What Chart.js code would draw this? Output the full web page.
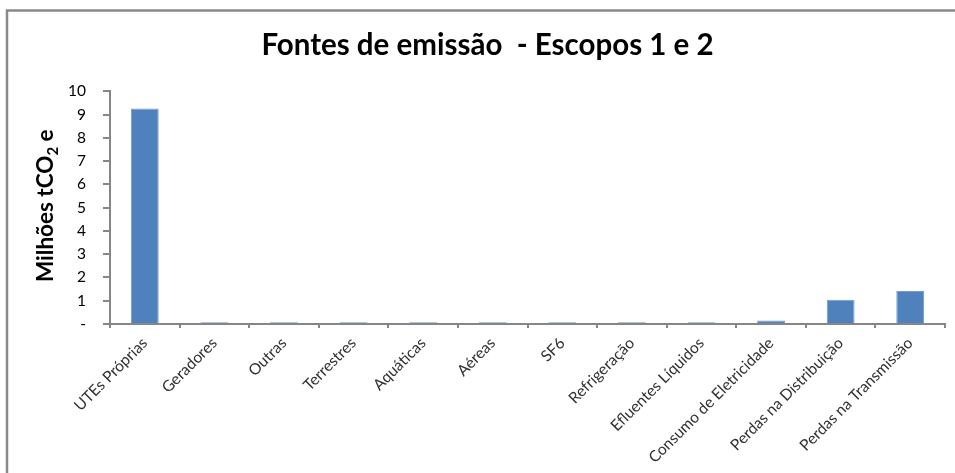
<!DOCTYPE html>
<html>
<head>
<meta charset="utf-8">
<script src="https://cdn.jsdelivr.net/npm/chart.js@4.4.1/dist/chart.umd.min.js"></script>
<style>
  html, body { margin: 0; padding: 0; background: #fff; }
  #wrap { position: relative; width: 955px; height: 473px; }
</style>
</head>
<body>
<div id="wrap"><canvas id="c" width="955" height="473"></canvas></div>
<script>
// Emission sources, scopes 1 and 2 (million tCO2e)
const categories = [
  'UTEs Próprias', 'Geradores', 'Outras', 'Terrestres', 'Aquáticas', 'Aéreas',
  'SF6', 'Refrigeração', 'Efluentes Líquidos', 'Consumo de Eletricidade',
  'Perdas na Distribuição', 'Perdas na Transmissão'
];
const emissions = [9.27, 0.08, 0.08, 0.08, 0.08, 0.08, 0.08, 0.08, 0.08, 0.15, 1.04, 1.42];
const yTicks = [0, 1, 2, 3, 4, 5, 6, 7, 8, 9, 10];

const chartTitle = 'Fontes de emissão  - Escopos 1 e 2';
const yTitleParts = ['Milhões tCO', '2', ' e'];

const axisGray = '#868686';
const fontFamily = 'Lato, "Open Sans", sans-serif';

// white background plus the frame lines on the top and left edges
const framePlugin = {
  id: 'frame',
  beforeDraw(chart) {
    const ctx = chart.ctx;
    ctx.save();
    ctx.fillStyle = '#ffffff';
    ctx.fillRect(0, 0, chart.width, chart.height);
    ctx.strokeStyle = '#8a8a8a';
    ctx.lineWidth = 2.5;
    ctx.beginPath();
    ctx.moveTo(7, chart.height);
    ctx.lineTo(7, 10.5);
    ctx.lineTo(chart.width, 10.5);
    ctx.stroke();
    ctx.restore();
  }
};

// rotated y axis title with a subscript "2"
const yTitlePlugin = {
  id: 'yTitle',
  afterDraw(chart) {
    const ctx = chart.ctx;
    const area = chart.chartArea;
    const mainFont = 'bold 22.5px ' + fontFamily;
    const subFont = 'bold 15px ' + fontFamily;
    ctx.save();
    ctx.font = mainFont;
    const w0 = ctx.measureText(yTitleParts[0]).width;
    const w2 = ctx.measureText(yTitleParts[2]).width;
    ctx.font = subFont;
    const w1 = ctx.measureText(yTitleParts[1]).width;
    const total = w0 + w1 + w2;
    const cy = (area.top + area.bottom) / 2 - 2;
    ctx.translate(53, cy);
    ctx.rotate(-Math.PI / 2);
    ctx.fillStyle = '#000000';
    ctx.textBaseline = 'alphabetic';
    ctx.textAlign = 'left';
    let x = -total / 2;
    ctx.font = mainFont;
    ctx.fillText(yTitleParts[0], x, 0);
    x += w0;
    ctx.font = subFont;
    ctx.fillText(yTitleParts[1], x, 5);
    x += w1;
    ctx.font = mainFont;
    ctx.fillText(yTitleParts[2], x, 0);
    ctx.restore();
  }
};

new Chart(document.getElementById('c'), {
  type: 'bar',
  data: {
    labels: categories,
    datasets: [{
      data: emissions,
      backgroundColor: '#4f81bd',
      borderColor: '#729bcf',
      borderWidth: 1,
      barPercentage: 0.8,
      categoryPercentage: 0.5
    }]
  },
  options: {
    responsive: false,
    animation: false,
    layout: { padding: { left: 30, right: 10, top: 0, bottom: 0 } },
    plugins: {
      legend: { display: false },
      tooltip: { enabled: false },
      title: {
        display: true,
        text: chartTitle,
        color: '#000000',
        font: { family: fontFamily, size: 29.5, weight: 'bold', lineHeight: 1.2 },
        padding: { top: 28, bottom: 28 }
      }
    },
    scales: {
      x: {
        grid: { drawOnChartArea: false, drawTicks: true, tickLength: 4, color: axisGray, lineWidth: 2, offset: true },
        border: { display: true, color: axisGray, width: 2 },
        ticks: {
          autoSkip: false,
          maxRotation: 45,
          minRotation: 45,
          padding: 6,
          color: '#303030',
          font: { family: fontFamily, size: 15.5 }
        },
        afterFit(scale) { scale.height = 149; }
      },
      y: {
        min: 0,
        max: 10,
        afterBuildTicks(scale) { scale.ticks = yTicks.map(v => ({ value: v })); },
        grid: { drawOnChartArea: false, drawTicks: true, tickLength: 7, color: axisGray, lineWidth: 2 },
        border: { display: true, color: axisGray, width: 2 },
        ticks: {
          padding: 17,
          color: '#000000',
          font: { family: fontFamily, size: 15.5 },
          callback: (v) => (v === 0 ? '-' : String(v))
        },
        afterFit(scale) { scale.width = 80; }
      }
    }
  },
  plugins: [framePlugin, yTitlePlugin]
});
</script>
</body>
</html>
